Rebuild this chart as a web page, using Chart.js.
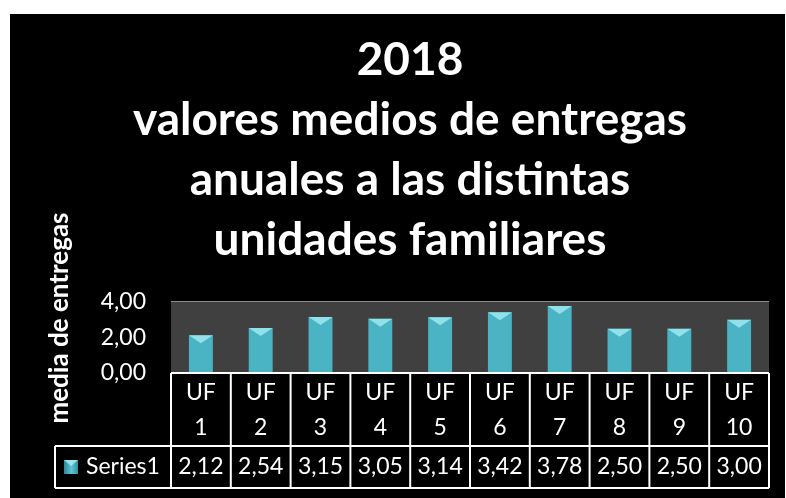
<!DOCTYPE html>
<html>
<head>
<meta charset="utf-8">
<script src="https://cdn.jsdelivr.net/npm/chart.js@4.4.0/dist/chart.umd.min.js"></script>
<style>
  html, body { margin: 0; padding: 0; background: #fff; }
  #box { position: absolute; left: 10px; top: 14px; width: 775px; height: 484px; background: #000; }
</style>
</head>
<body>
<div id="box"><canvas id="chart"></canvas></div>
<script>
// ---------------- data ----------------
const categories = ["UF 1", "UF 2", "UF 3", "UF 4", "UF 5", "UF 6", "UF 7", "UF 8", "UF 9", "UF 10"];
const series1 = [2.12, 2.54, 3.15, 3.05, 3.14, 3.42, 3.78, 2.50, 2.50, 3.00];
const seriesName = "Series1";
const yTicks = [0, 2, 4];
const titleLines = ["2018", "valores medios de entregas", "anuales a las distintas", "unidades familiares"];
const yTitle = "media de entregas";

const FONT = "Lato, 'Open Sans', sans-serif";

function fmt(v){
    return v.toFixed(2).replace(".", ",");
}

// plot background + table + axis title
const tablePlugin = {
    id: "table",
    beforeDatasetsDraw(chart){
        const {ctx, chartArea} = chart;
        ctx.save();
        ctx.fillStyle = "#404040";
        ctx.fillRect(chartArea.left, chartArea.top, chartArea.right - chartArea.left, chartArea.bottom - chartArea.top);
        ctx.restore();
    },
    afterDatasetsDraw(chart){
        const {ctx} = chart;
        const meta = chart.getDatasetMeta(0);
        // bevel on top of each bar
        ctx.save();
        meta.data.forEach(bar=>{
            const w = bar.width, x0 = bar.x - w/2, y0 = bar.y;
            ctx.fillStyle = "rgba(170,240,248,0.75)";
            ctx.beginPath();
            ctx.moveTo(x0, y0);
            ctx.lineTo(x0 + w, y0);
            ctx.lineTo(bar.x, y0 + 8);
            ctx.closePath();
            ctx.fill();
        });
        ctx.restore();
    },
    afterDraw(chart){
        const {ctx, chartArea} = chart;
        const xs = chart.scales.x;
        const left = chartArea.left, right = chartArea.right;
        const top = chartArea.bottom;
        const row1 = top + 73;
        const row2 = row1 + 42;
        const labelLeft = 45;
        const colW = (right - left) / categories.length;

        ctx.save();
        ctx.strokeStyle = "#fff";
        ctx.lineWidth = 2;
        ctx.beginPath();
        ctx.moveTo(left, top); ctx.lineTo(right, top);
        ctx.moveTo(labelLeft, row1); ctx.lineTo(right, row1);
        ctx.moveTo(labelLeft, row2); ctx.lineTo(right, row2);
        ctx.moveTo(labelLeft, row1); ctx.lineTo(labelLeft, row2);
        for (let i = 0; i <= categories.length; i++){
            const x = left + i * colW;
            ctx.moveTo(x, top); ctx.lineTo(x, row2);
        }
        ctx.stroke();

        ctx.fillStyle = "#fff";
        ctx.font = "23px " + FONT;
        ctx.textAlign = "center";
        ctx.textBaseline = "middle";
        categories.forEach((c, i)=>{
            const x = xs.getPixelForValue(i);
            const parts = c.split(" ");
            ctx.fillText(parts[0], x, top + 20);
            ctx.fillText(parts[1], x, top + 55);
            ctx.fillText(fmt(series1[i]), x, row1 + 21);
        });

        // legend key + series name
        const g = ctx.createLinearGradient(54, 0, 69, 0);
        g.addColorStop(0, "#2d8896");
        g.addColorStop(0.5, "#5ec6d4");
        g.addColorStop(1, "#2d8896");
        ctx.fillStyle = g;
        ctx.fillRect(54, row1 + 14, 14, 14);
        ctx.fillStyle = "rgba(170,240,248,0.8)";
        ctx.beginPath();
        ctx.moveTo(54, row1 + 14); ctx.lineTo(68, row1 + 14); ctx.lineTo(61, row1 + 20);
        ctx.closePath(); ctx.fill();

        ctx.fillStyle = "#fff";
        ctx.textAlign = "left";
        ctx.fillText(seriesName, 76, row1 + 21);

        // y axis title
        ctx.font = "bold 26px " + FONT;
        ctx.translate(50, 304);
        ctx.rotate(-Math.PI/2);
        ctx.textAlign = "center";
        ctx.fillText(yTitle, 0, 0);
        ctx.restore();
    }
};

new Chart(document.getElementById("chart"), {
    type: "bar",
    data: {
        labels: categories,
        datasets: [{
            label: seriesName,
            data: series1,
            borderWidth: 0,
            backgroundColor(c){
                const bar = c.element;
                if (!bar || !c.chart.chartArea || !Number.isFinite(bar.x) || !Number.isFinite(bar.width)) return "#4ab4c4";
                const w = bar.width;
                const g = c.chart.ctx.createLinearGradient(bar.x - w/2, 0, bar.x + w/2, 0);
                g.addColorStop(0, "#2a7f8c");
                g.addColorStop(0.45, "#5cc3d1");
                g.addColorStop(1, "#2a7f8c");
                return g;
            },
            categoryPercentage: 1,
            barPercentage: 0.4
        }]
    },
    options: {
        responsive: true,
        maintainAspectRatio: false,
        animation: false,
        layout: { padding: { left: 41, right: 16, top: 0, bottom: 125 } },
        plugins: {
            legend: { display: false },
            tooltip: { enabled: false },
            title: {
                display: true,
                text: titleLines,
                color: "#fff",
                font: { family: FONT, size: 46, weight: "bold", lineHeight: 60 / 46 },
                padding: { top: 16, bottom: 32 }
            }
        },
        scales: {
            x: {
                display: false
            },
            y: {
                min: 0,
                max: 4,
                afterBuildTicks(s){ s.ticks = yTicks.map(v=>({value: v})); },
                afterFit(s){ s.width = 120; },
                grid: { color: "#8c8c8c", lineWidth: 2, drawTicks: false },
                border: { display: false },
                ticks: {
                    color: "#fff",
                    padding: 25,
                    font: { family: FONT, size: 23 },
                    callback: v=>fmt(v)
                }
            }
        }
    },
    plugins: [tablePlugin]
});
</script>
</body>
</html>
